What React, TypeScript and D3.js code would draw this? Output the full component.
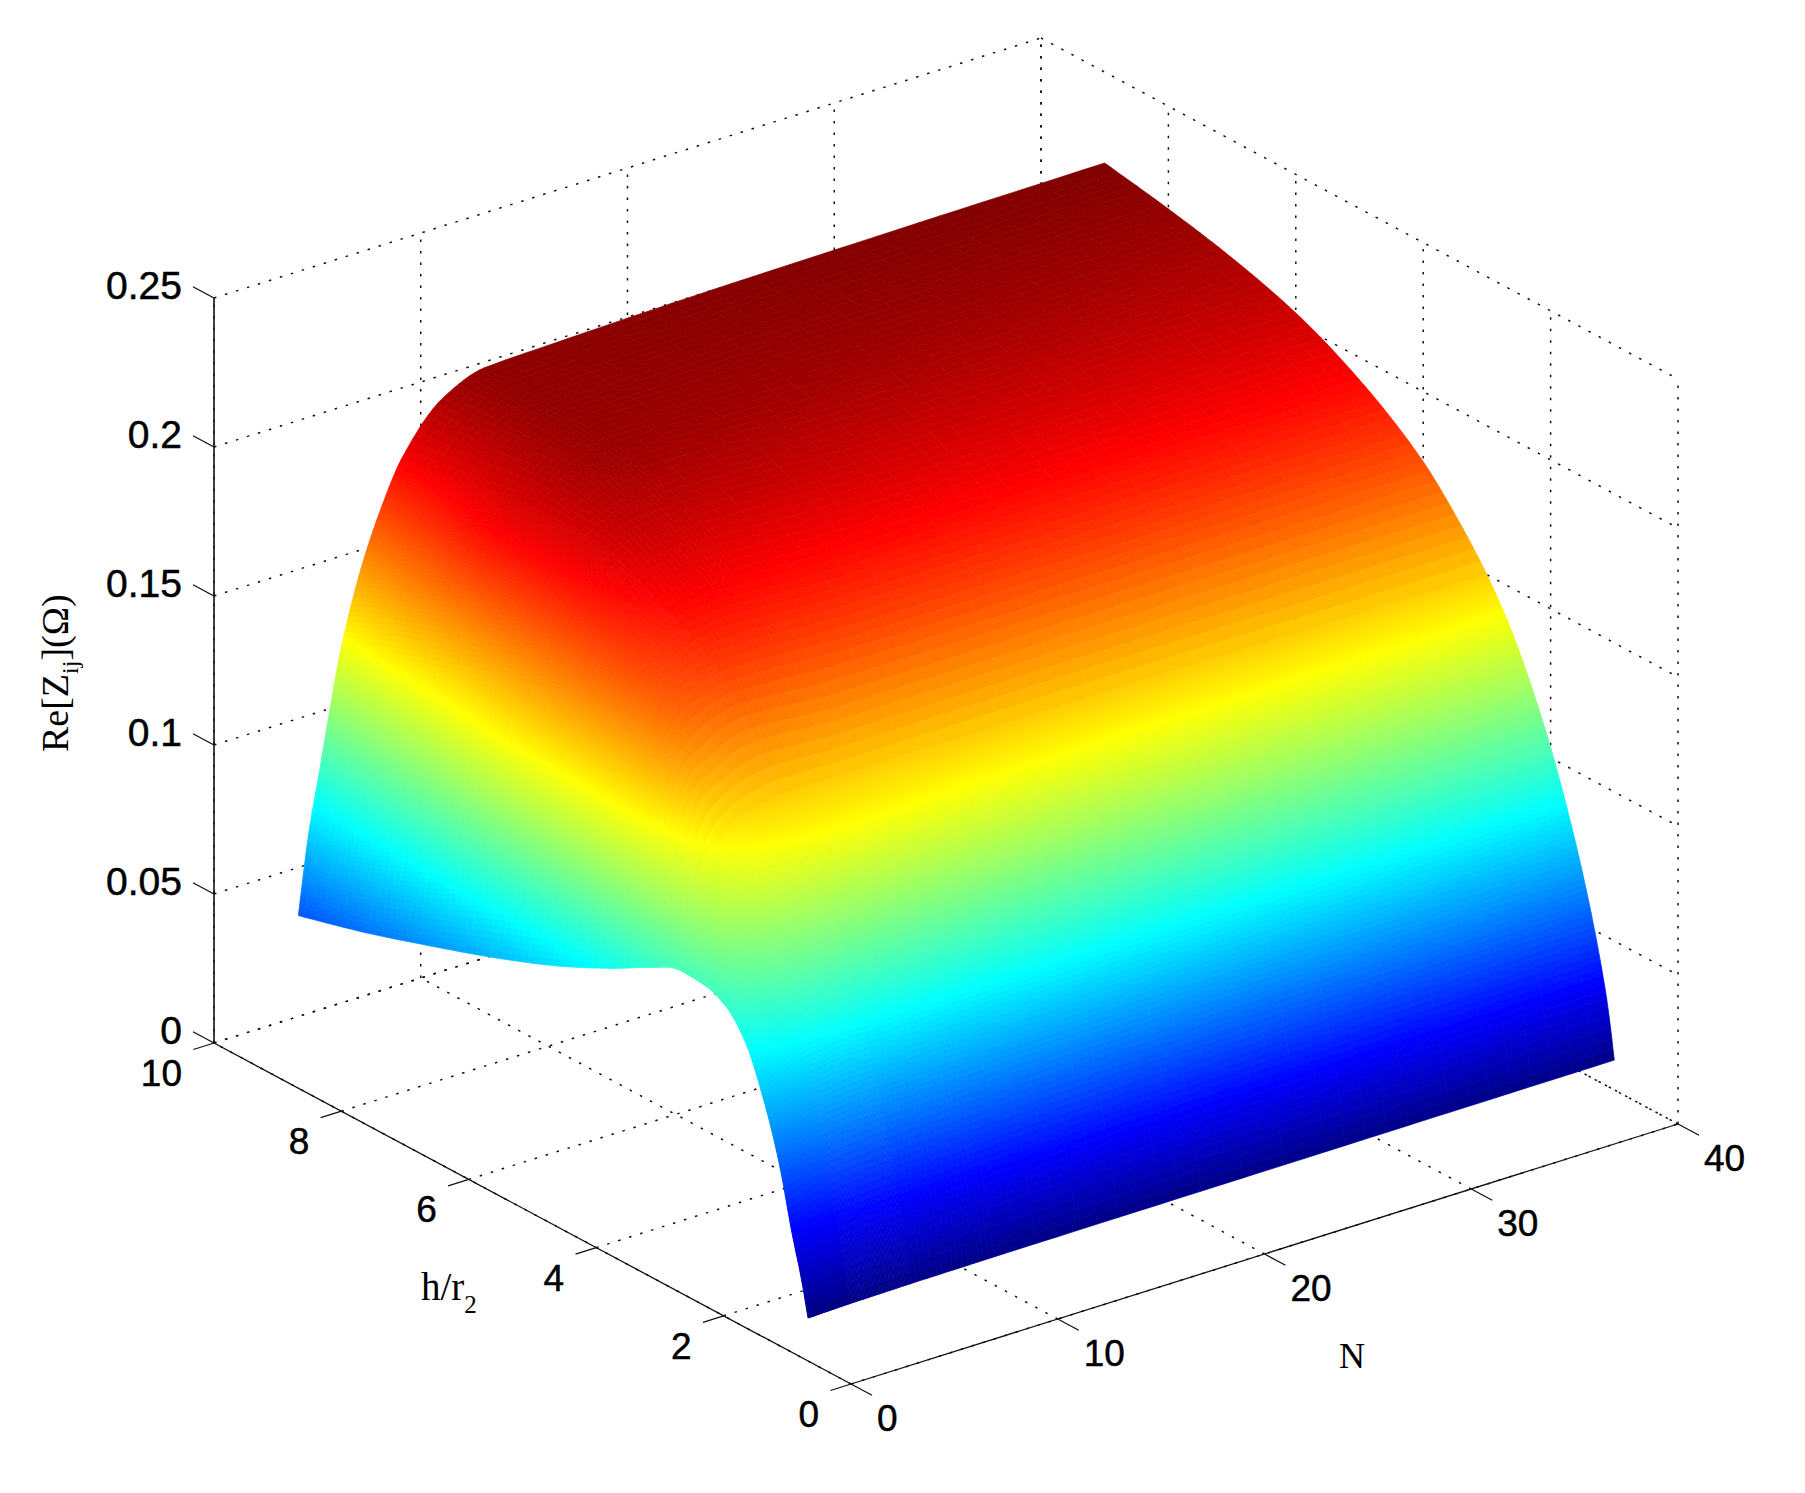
import React, { useEffect, useRef } from 'react'
import * as d3 from 'd3'

// surface grid: one row per h/r2 value, one column per N value
const nValues = [1, 1.25, 1.5, 2, 2.5, 3, 4, 5, 6, 8, 10, 14, 20, 30, 40]
const hValues = [1, 1.1, 1.25, 1.45, 1.7, 2, 2.3, 2.6, 3, 3.5, 4, 5, 6, 7, 8, 9]
const reZ = [
  [.0085, .0085, .0086, .0087, .0088, .0089, .009, .0091, .0092, .0093, .0094, .0095, .0096, .0098, .01],
  [.02, .0203, .0206, .021, .0215, .022, .0225, .023, .0235, .024, .0245, .025, .0255, .026, .0265],
  [.034, .0345, .035, .036, .037, .0375, .0385, .039, .0395, .04, .041, .042, .043, .0435, .044],
  [.055, .0555, .056, .057, .058, .059, .06, .0605, .061, .0615, .062, .0625, .063, .063, .063],
  [.074, .075, .076, .0775, .079, .08, .081, .082, .082, .0825, .0828, .083, .083, .083, .083],
  [.0905, .0915, .093, .096, .098, .1, .102, .1035, .104, .1045, .1045, .104, .1037, .1035, .1035],
  [.0985, .101, .104, .109, .113, .116, .12, .122, .123, .124, .124, .123, .122, .121, .1205],
  [.1015, .107, .112, .121, .127, .132, .136, .138, .139, .14, .1395, .138, .137, .136, .135],
  [.1022, .11, .118, .13, .138, .143, .148, .15, .151, .151, .151, .151, .151, .1505, .15],
  [.0975, .11, .123, .138, .15, .158, .162, .166, .167, .166, .165, .165, .165, .1648, .1645],
  [.0915, .108, .123, .141, .155, .165, .175, .178, .18, .18, .179, .178, .1775, .177, .1765],
  [.081, .101, .118, .1375, .153, .165, .18, .188, .193, .196, .195, .194, .1935, .193, .1925],
  [.0725, .0925, .11, .133, .148, .16, .18, .194, .202, .207, .2075, .2065, .205, .204, .2035],
  [.065, .082, .097, .12, .1385, .152, .178, .195, .202, .2115, .214, .2135, .2125, .2115, .2105],
  [.058, .073, .087, .108, .127, .1445, .17, .187, .198, .2105, .2155, .2158, .216, .216, .2155],
  [.052, .066, .0785, .0975, .117, .135, .1612, .18, .1945, .2105, .2162, .2172, .2182, .219, .2195]
]

const nTicks = [0, 10, 20, 30, 40]
const hTicks = [0, 2, 4, 6, 8, 10]
const zTicks = [0, 0.05, 0.1, 0.15, 0.2, 0.25]
const zLabels = ['0', '0.05', '0.1', '0.15', '0.2', '0.25']

const jetStops = ['#000080', '#0000ff', '#00ffff', '#ffff00', '#ff0000', '#800000']
const jetDomain = [0, 1 / 8, 3 / 8, 5 / 8, 7 / 8, 1]

// projection of the 3d box on the page
const originX = 851
const originY = 1384
const nToX = d3.scaleLinear().domain([0, 40]).range([0, 827])
const nToY = d3.scaleLinear().domain([0, 40]).range([0, -260])
const hToX = d3.scaleLinear().domain([0, 10]).range([0, -637])
const hToY = d3.scaleLinear().domain([0, 10]).range([0, -341])
const zToY = d3.scaleLinear().domain([0, 0.25]).range([0, -745])

const project = (n: number, h: number, z: number): [number, number] => [
  originX + nToX(n) + hToX(h),
  originY + nToY(n) + hToY(h) + zToY(z)
]

// monotone cubic through the grid values, only to shade the mesh smoothly (like shading interp)
const monotone = (xs: number[], ys: number[]) => {
  const n = xs.length
  const d = d3.range(n - 1).map(i => (ys[i + 1] - ys[i]) / (xs[i + 1] - xs[i]))
  const m = xs.map((_, i) => {
    if (i === 0) return d[0]
    if (i === n - 1) return d[n - 2]
    if (d[i - 1] * d[i] <= 0) return 0
    const w1 = 2 * (xs[i + 1] - xs[i]) + (xs[i] - xs[i - 1])
    const w2 = (xs[i + 1] - xs[i]) + 2 * (xs[i] - xs[i - 1])
    return (w1 + w2) / (w1 / d[i - 1] + w2 / d[i])
  })
  const bis = d3.bisector((v: number) => v).right
  return (x: number) => {
    const i = Math.min(n - 2, Math.max(0, bis(xs, x) - 1))
    const w = xs[i + 1] - xs[i]
    const t = (x - xs[i]) / w
    const t2 = t * t
    const t3 = t2 * t
    return (2 * t3 - 3 * t2 + 1) * ys[i] + (t3 - 2 * t2 + t) * w * m[i] +
      (-2 * t3 + 3 * t2) * ys[i + 1] + (t3 - t2) * w * m[i + 1]
  }
}

const steps = (from: number, to: number, by: number) => d3.range(from, to - 1e-9, by)

const App = () => {
  const ref = useRef<SVGSVGElement>(null)

  useEffect(() => {
    const svg = d3.select(ref.current)
    svg.selectAll('*').remove()

    const gridLine = (a: [number, number], b: [number, number]) => svg.append('line')
      .attr('x1', a[0]).attr('y1', a[1]).attr('x2', b[0]).attr('y2', b[1])
      .attr('stroke', '#111').attr('stroke-width', 1.5).attr('stroke-dasharray', '2.5 9')

    // dotted grid on the floor and the two back walls
    nTicks.forEach(n => {
      gridLine(project(n, 0, 0), project(n, 10, 0))
      gridLine(project(n, 10, 0), project(n, 10, 0.25))
    })
    hTicks.forEach(h => {
      gridLine(project(0, h, 0), project(40, h, 0))
      gridLine(project(40, h, 0), project(40, h, 0.25))
    })
    zTicks.forEach(z => {
      gridLine(project(0, 10, z), project(40, 10, z))
      gridLine(project(40, 10, z), project(40, 0, z))
    })

    // surface
    const color = d3.scaleLinear<string>()
      .domain(jetDomain.map(t => 0.0085 + t * (0.2195 - 0.0085)))
      .range(jetStops)
      .clamp(true)

    const fineN = [...steps(1, 3, 0.025), ...steps(3, 6, 0.06), ...steps(6, 10, 0.25), ...steps(10, 40, 1), 40]
    const fineH = [...steps(1, 3, 0.02), ...steps(3, 9, 0.1), 9]
    const rows = reZ.map(row => monotone(nValues, row))
    const columns = fineN.map(n => {
      const f = monotone(hValues, rows.map(r => r(n)))
      return fineH.map(h => f(h))
    })

    const quads: { d: string, z: number }[] = []
    for (let i = fineN.length - 2; i >= 0; i--) {
      for (let j = fineH.length - 2; j >= 0; j--) {
        const corners = [[i, j], [i + 1, j], [i + 1, j + 1], [i, j + 1]]
        const pts = corners.map(([a, b]) => project(fineN[a], fineH[b], columns[a][b]))
        quads.push({
          d: 'M' + pts.map(p => p[0].toFixed(1) + ',' + p[1].toFixed(1)).join('L') + 'Z',
          z: d3.mean(corners, ([a, b]) => columns[a][b]) as number
        })
      }
    }
    svg.append('g').selectAll('path').data(quads).join('path')
      .attr('d', d => d.d)
      .attr('fill', d => color(d.z))
      .attr('stroke', d => color(d.z))
      .attr('stroke-width', 0.7)

    const axisLine = (a: [number, number], b: [number, number], width = 1.3) => svg.append('line')
      .attr('x1', a[0]).attr('y1', a[1]).attr('x2', b[0]).attr('y2', b[1])
      .attr('stroke', '#111').attr('stroke-width', width)

    // axes and ticks
    axisLine(project(0, 10, 0), project(0, 10, 0.25), 1.6)
    axisLine(project(0, 0, 0), project(0, 10, 0))
    axisLine(project(0, 0, 0), project(40, 0, 0))
    zTicks.forEach(z => axisLine(project(0, 10, z), project(0, 10.33, z)))
    hTicks.forEach(h => axisLine(project(0, h, 0), project(-1, h, 0)))
    nTicks.forEach(n => axisLine(project(n, 0, 0), project(n, -0.33, 0)))

    const label = (x: number, y: number, text: string, anchor: string, size = 37) => svg.append('text')
      .attr('x', x).attr('y', y).attr('text-anchor', anchor)
      .attr('font-family', '"Liberation Sans", sans-serif').attr('font-size', size)
      .attr('fill', '#000').attr('stroke', '#000').attr('stroke-width', 0.5).text(text)

    zTicks.forEach((z, i) => {
      const p = project(0, 10, z)
      label(p[0] - 32, p[1] + 1, zLabels[i], 'end', 39)
    })
    hTicks.forEach(h => {
      const p = project(0, h, 0)
      label(p[0] - 32, p[1] + 43, String(h), 'end')
    })
    nTicks.forEach(n => {
      const p = project(n, 0, 0)
      label(p[0] + 26, p[1] + 47, String(n), 'start')
    })

    const serif = '"Liberation Serif", serif'
    const hTitle = svg.append('text').attr('x', 421).attr('y', 1300)
      .attr('font-family', serif).attr('font-size', 39).attr('fill', '#000')
    hTitle.append('tspan').text('h/r')
    hTitle.append('tspan').attr('dy', 13).attr('font-size', 25).text('2')

    svg.append('text').attr('x', 1339).attr('y', 1368)
      .attr('font-family', serif).attr('font-size', 36).attr('fill', '#000').text('N')

    const yTitle = svg.append('text')
      .attr('transform', 'translate(68,752) rotate(-90)')
      .attr('font-family', serif).attr('font-size', 38).attr('fill', '#000')
    yTitle.append('tspan').text('Re[Z')
    yTitle.append('tspan').attr('dy', 10).attr('font-size', 24).text('ij')
    yTitle.append('tspan').attr('dy', -10).text(']')
    yTitle.append('tspan').text('(Ω)')
  }, [])

  return (
    <svg ref={ref} width={1805} height={1493}
      style={{ position: 'absolute', left: 0, top: 0, background: '#fff' }} />
  )
}

export default App
